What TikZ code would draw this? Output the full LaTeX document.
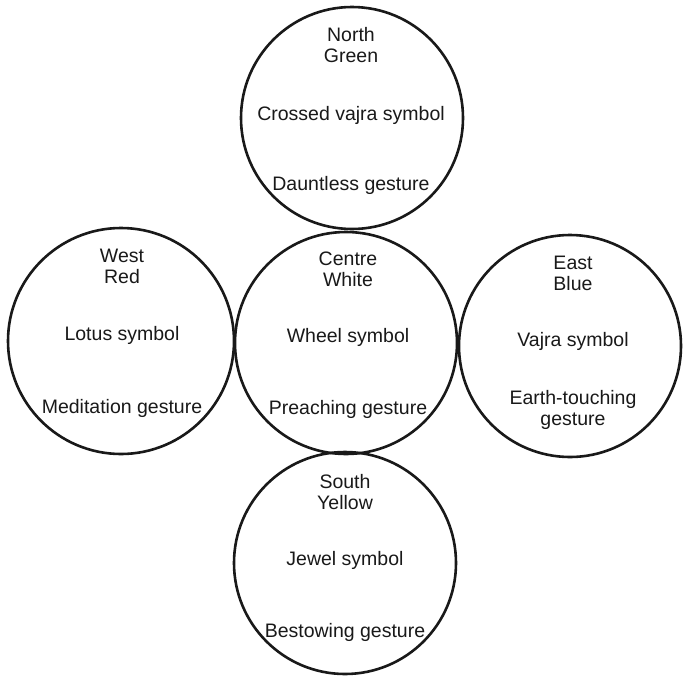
\documentclass[tikz,border=0pt]{standalone}
\usepackage{fontspec}
\setmainfont{Liberation Sans}
\begin{document}
\begin{tikzpicture}[x=1pt,y=-1pt,
  ring/.style={draw=black!90,line width=2.6pt,circle,inner sep=0pt},
  lbl/.style={align=center,font=\fontsize{19.5}{21}\selectfont,text=black!90,inner sep=0pt}]
\useasboundingbox[fill=white] (0,0) rectangle (683,678);
\node[ring,minimum size=222pt] (north) at (352,118) {};
\node[ring,minimum size=226pt] (west) at (121,341) {};
\node[ring,minimum size=222pt] (centre) at (346,343) {};
\node[ring,minimum size=222pt] (east) at (570,346) {};
\node[ring,minimum size=222pt] (south) at (345,563) {};
% North
\node[lbl] (n1) at (351,45) {North\\Green};
\node[lbl] (n2) at (351,115) {Crossed vajra symbol};
\node[lbl] (n3) at (351,185) {Dauntless gesture};
% West
\node[lbl] (w1) at (122,266) {West\\Red};
\node[lbl] (w2) at (122,335) {Lotus symbol};
\node[lbl] (w3) at (122,408) {Meditation gesture};
% Centre
\node[lbl] (c1) at (348,269) {Centre\\White};
\node[lbl] (c2) at (348,337) {Wheel symbol};
\node[lbl] (c3) at (348,409) {Preaching gesture};
% East
\node[lbl] (e1) at (573,273) {East\\Blue};
\node[lbl] (e2) at (573,341) {Vajra symbol};
\node[lbl] (e3) at (573,410) {Earth-touching\\gesture};
% South
\node[lbl] (s1) at (345,492) {South\\Yellow};
\node[lbl] (s2) at (345,560) {Jewel symbol};
\node[lbl] (s3) at (345,632) {Bestowing gesture};
\end{tikzpicture}
\end{document}
